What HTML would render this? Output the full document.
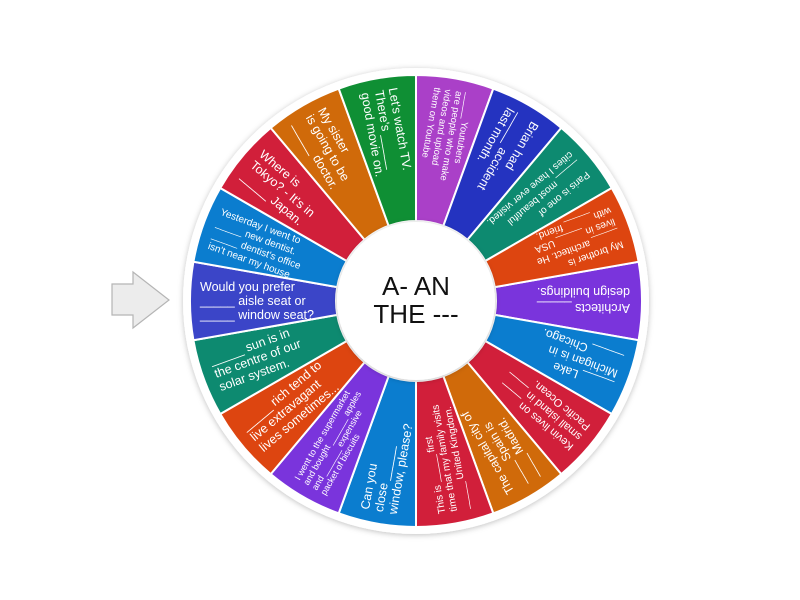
<!DOCTYPE html>
<html><head><meta charset="utf-8"><style>
html,body{margin:0;padding:0;background:#fff;width:800px;height:600px;overflow:hidden}
text{font-family:"Liberation Sans",sans-serif;fill:#fff}
</style></head><body>
<svg width="800" height="600" viewBox="0 0 800 600" xmlns="http://www.w3.org/2000/svg">
<defs>
<filter id="sh" x="-20%" y="-20%" width="140%" height="140%"><feDropShadow dx="0" dy="1" stdDeviation="3" flood-color="#000" flood-opacity="0.25"/></filter>
<path id="w" d="M78.79,-13.89 L222.57,-39.24 A226,226 0 0 1 222.57,39.24 L78.79,13.89 A80,80 0 0 0 78.79,-13.89 Z" stroke="#fff" stroke-width="2"/>
</defs>
<polygon points="112,284 133,284 133,272 169,300 133,328 133,315 112,315" fill="#ececec" stroke="#b5b5b5" stroke-width="1.2"/>
<circle cx="416" cy="301" r="233" fill="#fff" filter="url(#sh)"/>
<g transform="translate(416,301)">
<g transform="rotate(0)"><use href="#w" fill="#7a34dc"/><g transform="translate(214,0) rotate(180)" font-size="12.5"><text x="0" y="-3">Architects _____</text><text x="0" y="13">design buildings.</text></g></g>
<g transform="rotate(20)"><use href="#w" fill="#0b7dcf"/><g transform="translate(214,0) rotate(180)" font-size="12"><text x="0" y="-10">_____ Lake</text><text x="0" y="4">Michigan is in</text><text x="0" y="18">_____ Chicago.</text></g></g>
<g transform="rotate(40)"><use href="#w" fill="#d11f3a"/><g transform="translate(214,0) rotate(180)" font-size="11"><text x="0" y="-9">Kevin lives on ____</text><text x="0" y="4">small island in ____</text><text x="0" y="17">Pacific Ocean.</text></g></g>
<g transform="rotate(60)"><use href="#w" fill="#d06a0a"/><g transform="translate(214,0) rotate(180)" font-size="12"><text x="0" y="-10">The capital city of</text><text x="0" y="4">____ Spain is</text><text x="0" y="18">____ Madrid.</text></g></g>
<g transform="rotate(80)"><use href="#w" fill="#d11f3a"/><g transform="translate(214,0) rotate(180)" font-size="10"><text x="0" y="-8">This is _____ first</text><text x="0" y="4">time that my family visits</text><text x="0" y="16">_____ United Kingdom.</text></g></g>
<g transform="rotate(100)"><use href="#w" fill="#0b7dcf"/><g transform="translate(214,0) rotate(180)" font-size="12.5"><text x="0" y="-10">Can you</text><text x="0" y="4">close _____</text><text x="0" y="18">window, please?</text></g></g>
<g transform="rotate(120)"><use href="#w" fill="#7a34dc"/><g transform="translate(214,0) rotate(180)" font-size="9"><text x="0" y="-11">I went to the supermarket</text><text x="0" y="-1">and bought ______ apples</text><text x="0" y="9">and ______ expensive</text><text x="0" y="19">packet of biscuits</text></g></g>
<g transform="rotate(140)"><use href="#w" fill="#dd4510"/><g transform="translate(214,0) rotate(180)" font-size="12.5"><text x="0" y="-10">_____ rich tend to</text><text x="0" y="4">live extravagant</text><text x="0" y="18">lives sometimes...</text></g></g>
<g transform="rotate(160)"><use href="#w" fill="#0d8a70"/><g transform="translate(214,0) rotate(180)" font-size="12.5"><text x="0" y="-10">_____ sun is in</text><text x="0" y="4">the centre of our</text><text x="0" y="18">solar system.</text></g></g>
<g transform="rotate(180)"><use href="#w" fill="#3b45c8"/><g transform="translate(216,0) rotate(180)" font-size="12.5"><text x="0" y="-10">Would you prefer</text><text x="0" y="4">_____ aisle seat or</text><text x="0" y="18">_____ window seat?</text></g></g>
<g transform="rotate(200)"><use href="#w" fill="#0b7dcf"/><g transform="translate(214,0) rotate(180)" font-size="10"><text x="0" y="-14">Yesterday I went to</text><text x="0" y="-2">_____ new dentist.</text><text x="0" y="10">_____ dentist's office</text><text x="0" y="22">isn't near my house</text></g></g>
<g transform="rotate(220)"><use href="#w" fill="#d11f3a"/><g transform="translate(214,0) rotate(180)" font-size="12.5"><text x="0" y="-10">Where is</text><text x="0" y="4">Tokyo? - It's in</text><text x="0" y="18">_____ Japan.</text></g></g>
<g transform="rotate(240)"><use href="#w" fill="#d06a0a"/><g transform="translate(214,0) rotate(180)" font-size="12.5"><text x="0" y="-10">My sister</text><text x="0" y="4">is going to be</text><text x="0" y="18">_____ doctor.</text></g></g>
<g transform="rotate(260)"><use href="#w" fill="#0f8f34"/><g transform="translate(214,0) rotate(180)" font-size="12.5"><text x="0" y="-10">Let's watch TV.</text><text x="0" y="4">There's _____</text><text x="0" y="18">good movie on.</text></g></g>
<g transform="rotate(280)"><use href="#w" fill="#aa40c8"/><g transform="translate(214,0) rotate(180)" font-size="9.5"><text x="0" y="-14">_____ Youtubers</text><text x="0" y="-3">are people who make</text><text x="0" y="8">videos and upload</text><text x="0" y="19">them on Youtube</text></g></g>
<g transform="rotate(300)"><use href="#w" fill="#2433c0"/><g transform="translate(214,0) rotate(180)" font-size="12.5"><text x="0" y="-10">Brian had</text><text x="0" y="4">_____ accident</text><text x="0" y="18">last month.</text></g></g>
<g transform="rotate(320)"><use href="#w" fill="#0d8a70"/><g transform="translate(214,0) rotate(180)" font-size="10"><text x="0" y="-10">Paris is one of</text><text x="0" y="3">_____ most beautiful</text><text x="0" y="16">cities I have ever visited.</text></g></g>
<g transform="rotate(340)"><use href="#w" fill="#dd4510"/><g transform="translate(214,0) rotate(180)" font-size="10"><text x="0" y="-14">My brother is</text><text x="0" y="-2">_____ architect. He</text><text x="0" y="10">lives in _____ USA</text><text x="0" y="22">with _____ friend.</text></g></g>
<circle cx="0" cy="0" r="79" fill="#fff" filter="url(#sh)"/>
<text x="0" y="-6" text-anchor="middle" font-size="26" style="fill:#111">A- AN</text>
<text x="0" y="22" text-anchor="middle" font-size="26" style="fill:#111">THE ---</text>
</g>
</svg>
</body></html>
